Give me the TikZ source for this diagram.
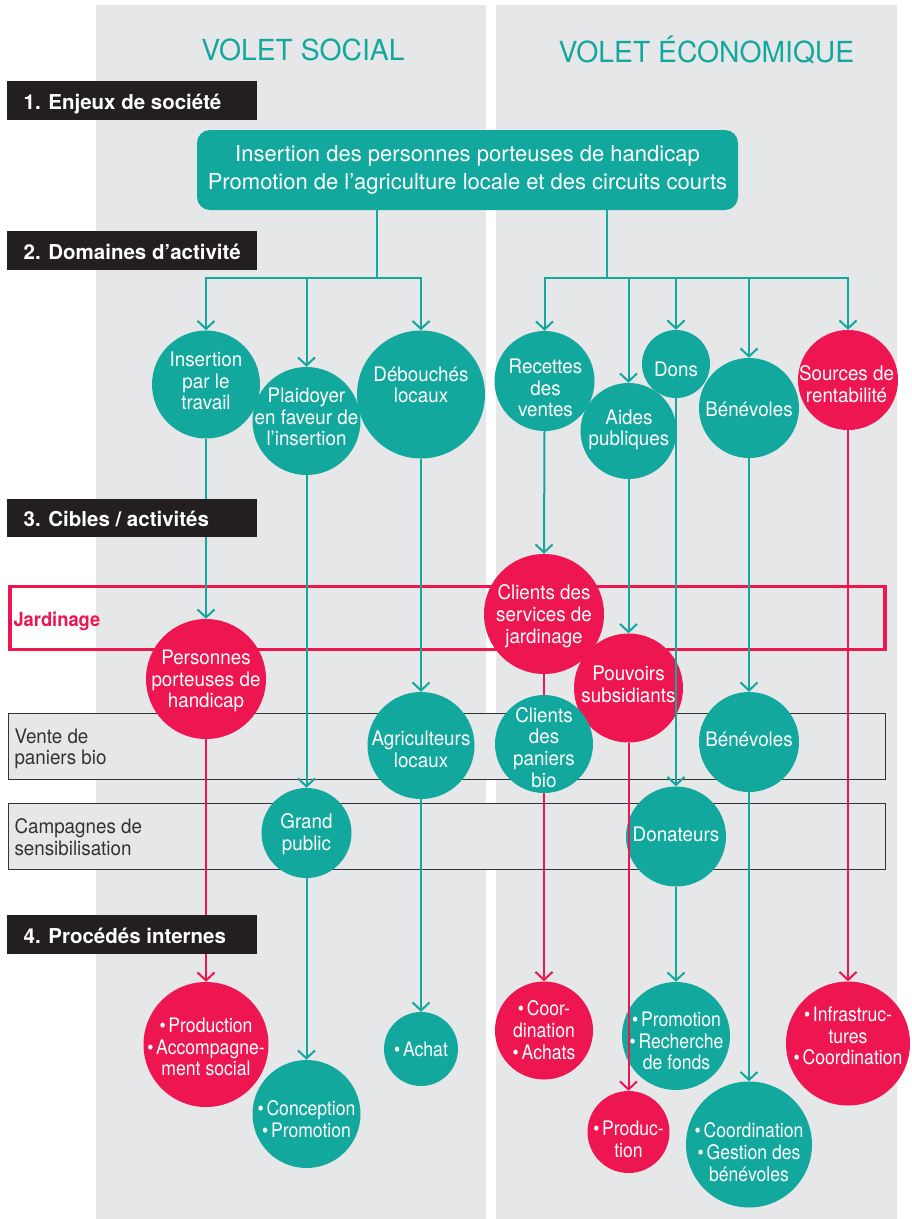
\documentclass[tikz,border=0pt]{standalone}
\usepackage{fontspec}
\setmainfont{TeX Gyre Heros}
\newfontfamily\cf[FakeStretch=0.94]{TeX Gyre Heros}
\newfontfamily\nf[FakeStretch=0.88]{TeX Gyre Heros}
\newfontfamily\tf[FakeStretch=0.975]{TeX Gyre Heros}
\usetikzlibrary{arrows.meta}
\definecolor{teal1}{HTML}{13A89E}
\definecolor{red1}{HTML}{ED1651}
\definecolor{panel}{HTML}{E6E7E8}
\definecolor{dark1}{HTML}{231F20}
\definecolor{rowtext}{HTML}{333333}
\newcommand{\bul}{•\kern2.8pt}
\begin{document}
\begin{tikzpicture}[x=1pt,y=-1pt,
  tline/.style={draw=teal1, line width=2pt},
  rline/.style={draw=red1, line width=2pt},
  arr/.style={-{Straight Barb[length=8pt,width=17pt]}},
  tcirc/.style={circle, fill=teal1, draw=none, inner sep=0pt},
  rcirc/.style={circle, fill=red1, draw=none, inner sep=0pt},
  ctxt/.style={text=white, align=center, inner sep=0pt, font=\cf\fontsize{20}{21.7}\selectfont},
  btxt/.style={text=white, align=center, inner sep=0pt, font=\nf\fontsize{20}{21.7}\selectfont},
  lblbox/.style={fill=dark1, draw=none, inner sep=0pt, anchor=north west, minimum width=250pt, minimum height=38.7pt},
  lbltxt/.style={text=white, inner sep=0pt, anchor=base west, font=\bfseries\fontsize{20.5}{22}\selectfont},
  rowbox/.style={fill=panel, draw=rowtext, line width=1.3pt, inner sep=0pt, anchor=north west, minimum width=877pt},
  rowtxt/.style={text=rowtext, inner sep=0pt, anchor=north west, align=left, font=\cf\fontsize{20}{21.5}\selectfont},
  ttl/.style={text=teal1, inner sep=0pt, anchor=base, font=\tf\fontsize{29}{30}\selectfont}
]
\useasboundingbox (0,0) rectangle (911,1219);
\fill[white] (0,0) rectangle (911,1219);
% panels
\fill[panel] (96,5) rectangle (486,1219);
\fill[panel] (496,5) rectangle (897,1219);
% titles
\node[ttl] (tsoc) at (303,60.5) {VOLET SOCIAL};
\node[ttl] (teco) at (706.5,62) {VOLET ÉCONOMIQUE};
% rows
\node[draw=red1, line width=3.3pt, inner sep=0pt, anchor=north west, minimum width=875pt, minimum height=62.7pt] (jard) at (8.3,585) {};
\node[text=red1, inner sep=0pt, anchor=base west, font=\cf\bfseries\fontsize{19.5}{21}\selectfont] (jardt) at (13.3,626.7) {Jardinage};
\node[rowbox, minimum height=66pt] (vente) at (7.5,712.5) {};
\node[rowtxt] (ventet) at (14.3,728.3) {Vente de\\paniers bio};
\node[rowbox, minimum height=66.5pt] (camp) at (7.5,802.5) {};
\node[rowtxt] (campt) at (14.3,818.6) {Campagnes de\\sensibilisation};
% top box
\node[fill=teal1, rounded corners=13pt, minimum width=541pt, minimum height=80pt, inner sep=0pt, text=white, align=center, font=\fontsize{22}{28.3}\selectfont] (tb) at (467.5,170) {Insertion des personnes porteuses de handicap\\Promotion de l’agriculture locale et des circuits courts};
% level 2 circles
\node[tcirc, minimum size=108pt] (ins) at (206,384.5) {};
\node[tcirc, minimum size=108pt] (pla) at (306.5,421) {};
\node[tcirc, minimum size=128pt] (deb) at (421,394.5) {};
\node[tcirc, minimum size=100pt] (rec) at (544.5,381) {};
\node[tcirc, minimum size=96pt] (aid) at (628.5,431) {};
\node[tcirc, minimum size=68pt] (don) at (676,364) {};
\node[tcirc, minimum size=100pt] (ben) at (749,408) {};
\node[rcirc, minimum size=100pt] (sou) at (848,380) {};
\node[ctxt] (ins-t) at (206,381) {Insertion\\par le\\travail};
\node[ctxt] (pla-t) at (306.5,417) {Plaidoyer\\en faveur de\\l’insertion};
\node[ctxt] (deb-t) at (421,385) {Débouchés\\locaux};
\node[ctxt] (rec-t) at (545.5,388) {Recettes\\des\\ventes};
\node[ctxt] (aid-t) at (629,430) {Aides\\publiques};
\node[ctxt] (don-t) at (676,369) {Dons};
\node[ctxt] (ben-t) at (749,409) {Bénévoles};
\node[ctxt] (sou-t) at (846.5,384.5) {Sources de\\rentabilité};
% level 3 circles
\node[rcirc, minimum size=120pt] (per) at (206,679) {};
\node[tcirc, minimum size=90pt] (grp) at (306.5,833) {};
\node[tcirc, minimum size=107pt] (agr) at (421,745.5) {};
\node[rcirc, minimum size=120pt] (cse) at (544,614) {};
\node[rcirc, minimum size=109pt] (pou) at (628.5,688) {};
\node[tcirc, minimum size=100pt] (be2) at (749,742) {};
\node[tcirc, minimum size=100pt] (dna) at (676,836.5) {};
\node[ctxt] (per-t) at (206,681) {Personnes\\porteuses de\\handicap};
\node[ctxt] (grp-t) at (306.5,834) {Grand\\public};
\node[ctxt] (agr-t) at (421,749.5) {Agriculteurs\\locaux};
\node[ctxt] (cse-t) at (544,616) {Clients des\\services de\\jardinage};
\node[ctxt] (pou-t) at (628.5,684) {Pouvoirs\\subsidiants};
\node[ctxt] (be2-t) at (749,739.5) {Bénévoles};
\node[ctxt] (dna-t) at (676,834) {Donateurs};
% level 4 circles
\node[rcirc, minimum size=125pt] (pra) at (206,1044.5) {};
\node[tcirc, minimum size=108pt] (cop) at (306.5,1114) {};
\node[tcirc, minimum size=74pt] (ach) at (421,1049) {};
\node[rcirc, minimum size=98pt] (coa) at (544,1030.5) {};
\node[tcirc, minimum size=108pt] (prr) at (676,1036) {};
\node[rcirc, minimum size=82pt] (pro) at (628.5,1132) {};
\node[tcirc, minimum size=126pt] (cog) at (749,1144.5) {};
\node[rcirc, minimum size=124pt] (inf) at (848,1043.5) {};
\node[btxt] (pra-t) at (206,1047) {\bul Production\\\bul Accompagne-\\ment social};
\node[btxt] (cop-t) at (306.5,1119) {\bul Conception\\\bul Promotion};
\node[btxt] (ach-t) at (421,1049) {\bul Achat};
\node[btxt] (coa-t) at (544,1030) {\bul Coor-\\dination\\\bul Achats};
\node[btxt] (prr-t) at (676.5,1041) {\bul Promotion\\\bul Recherche\\de fonds};
\node[btxt] (pro-t) at (628.5,1139) {\bul Produc-\\tion};
\node[btxt] (cog-t) at (749,1152) {\bul Coordination\\\bul Gestion des\\bénévoles};
\node[btxt] (inf-t) at (848,1036) {\bul Infrastruc-\\tures\\\bul Coordination};
% connectors from top box
\coordinate (bl) at (377,277.5);
\coordinate (br) at (607,277.5);
\draw[tline] (tb.south -| bl) -- (bl);
\draw[tline] (tb.south -| br) -- (br);
\draw[tline, arr] (bl) -| (ins.north);
\draw[tline, arr] (bl) -| (deb.north);
\draw[tline, arr] (pla.north |- bl) -- (pla.north);
\draw[tline, arr] (br) -| (rec.north);
\draw[tline, arr] (br) -| (sou.north);
\draw[tline, arr] (aid.north |- br) -- (aid.north);
\draw[tline, arr] (don.north |- br) -- (don.north);
\draw[tline, arr] (ben.north |- br) -- (ben.north);
% vertical chains
\draw[tline, arr] (ins) -- (per);
\draw[rline, arr] (per) -- (pra);
\draw[tline, arr] (pla) -- (grp);
\draw[tline, arr] (grp) -- (cop);
\draw[tline, arr] (deb) -- (agr);
\draw[tline, arr] (agr) -- (ach);
\draw[tline, arr] (rec.south) -- (cse.north);
\draw[rline, arr] (cse) -- (coa);
\draw[tline, arr] (aid) -- (pou);
\draw[rline, arr] (pou) -- (pro);
\draw[tline, arr] (don) -- (dna);
\draw[tline, arr] (dna) -- (prr);
\draw[tline, arr] (ben) -- (be2);
\draw[tline, arr] (be2) -- (cog);
\draw[rline, arr] (sou) -- (inf);
% clients des paniers bio on top of the red line
\node[tcirc, minimum size=98pt] (cpb) at (544,744) {};
\node[ctxt] (cpb-t) at (544,747.5) {Clients\\des\\paniers\\bio};
% section labels (on top of the lines)
\node[lblbox] (b1) at (7,81) {};
\node[lbltxt] (b1t) at (23.5,109) {1. Enjeux de société};
\node[lblbox] (b2) at (7,231) {};
\node[lbltxt] (b2t) at (23.5,259) {2. Domaines d’activité};
\node[lblbox] (b3) at (7,498.3) {};
\node[lbltxt] (b3t) at (23.5,526.3) {3. Cibles / activités};
\node[lblbox] (b4) at (7,915) {};
\node[lbltxt] (b4t) at (23.5,943) {4. Procédés internes};
\end{tikzpicture}
\end{document}
